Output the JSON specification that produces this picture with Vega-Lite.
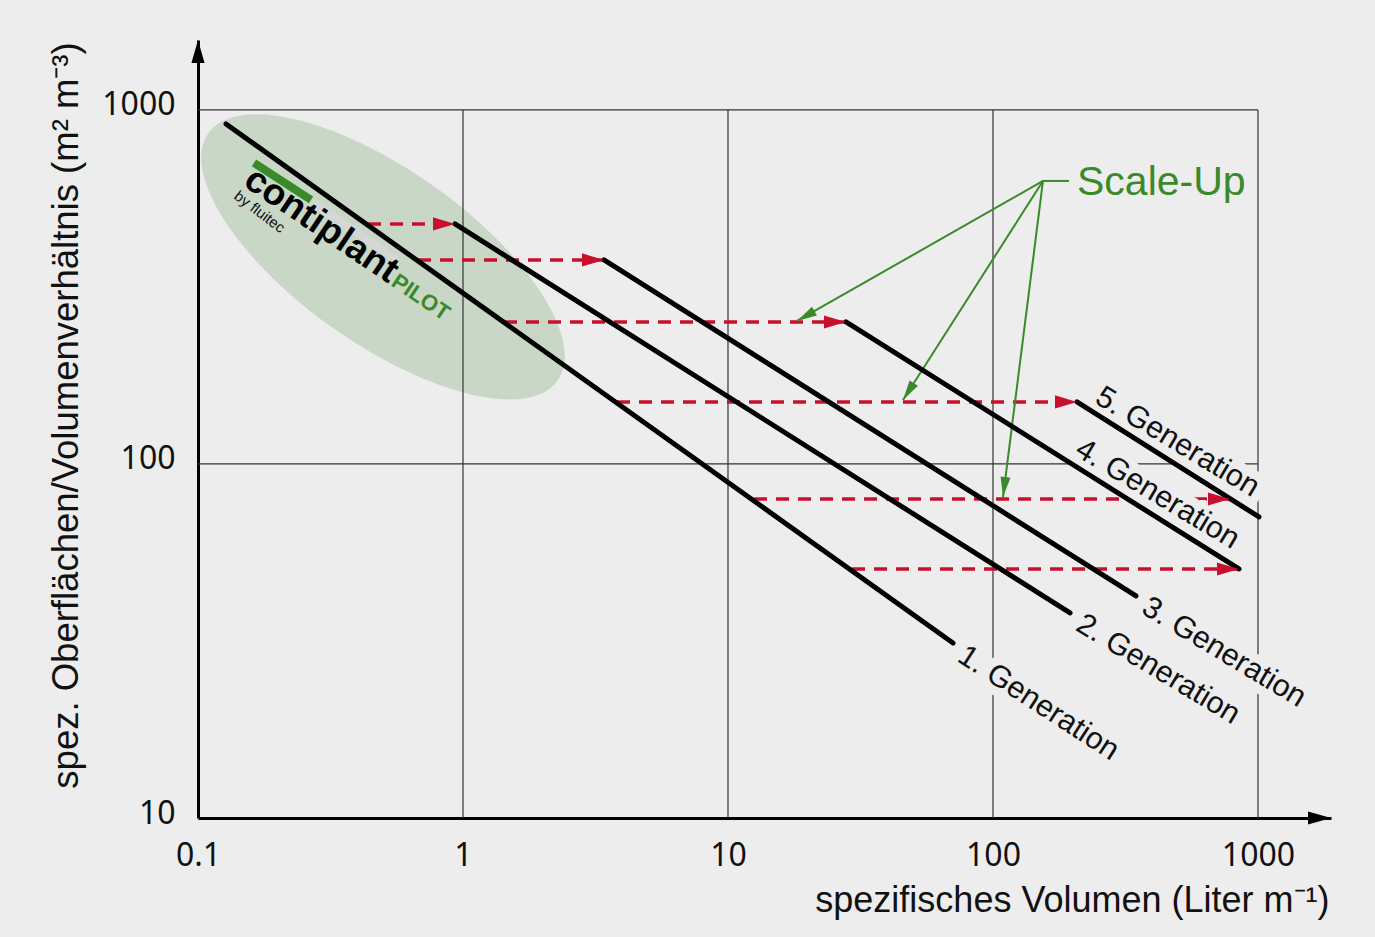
{
  "$schema": "https://vega.github.io/schema/vega-lite/v6.json",
  "width": 1133,
  "height": 778,
  "autosize": {"type": "none"},
  "padding": {"left": 198, "top": 40, "right": 44, "bottom": 119},
  "background": "#ededed",
  "config": {"view": {"stroke": null}, "font": "Liberation Sans"},
  "datasets": {
    "lines": [
      {"gen": 1, "x": 0.1276, "y": 912.8}, {"gen": 1, "x": 70.64, "y": 31.22},
      {"gen": 2, "x": 0.9329, "y": 476.4}, {"gen": 2, "x": 195.3, "y": 37.94},
      {"gen": 3, "x": 3.405, "y": 376.9}, {"gen": 3, "x": 346.4, "y": 42.38},
      {"gen": 4, "x": 27.88, "y": 251.8}, {"gen": 4, "x": 847.8, "y": 50.51},
      {"gen": 5, "x": 207.5, "y": 149.7}, {"gen": 5, "x": 1008.7, "y": 70.86}
    ],
    "labels": [
      {"gen": 1, "label": "1. Generation", "x": 70.64, "y": 31.22},
      {"gen": 2, "label": "2. Generation", "x": 195.3, "y": 37.94},
      {"gen": 3, "label": "3. Generation", "x": 346.4, "y": 42.38},
      {"gen": 4, "label": "4. Generation", "x": 847.8, "y": 50.51},
      {"gen": 5, "label": "5. Generation", "x": 1008.7, "y": 70.86}
    ],
    "arrows": [
      {"x": 0.4381, "x2": 0.9329, "y": 476.4},
      {"x": 0.6765, "x2": 3.405, "y": 376.9},
      {"x": 1.428, "x2": 27.88, "y": 251.8},
      {"x": 3.812, "x2": 207.5, "y": 149.7},
      {"x": 12.54, "x2": 784.2, "y": 79.62},
      {"x": 29.38, "x2": 847.8, "y": 50.51}
    ],
    "green": [
      {"id": "a", "x": 154.4, "y": 630.1, "x2": 18.22, "y2": 253.5},
      {"id": "b", "x": 154.4, "y": 630.1, "x2": 45.76, "y2": 151.6},
      {"id": "c", "x": 154.4, "y": 630.1, "x2": 109.1, "y2": 80.66},
      {"id": "h", "x": 154.4, "y": 630.1, "x2": 193.6, "y2": 630.1}
    ],
    "scaleup": [{"text": "Scale-Up", "x": 207.5, "y": 575.4}],
    "ellipse": [{"x": 0.499, "y": 384.6}],
    "logoText": [
      {"part": "contiplant", "x": 0.14655, "y": 614.1},
      {"part": "PILOT", "x": 0.5302, "y": 320.4},
      {"part": "by fluitec", "x": 0.13554, "y": 564.2}
    ],
    "logoBars": [
      {"bar": "green", "x": 0.16266, "y": 708.6, "x2": 0.267, "y2": 557.0},
      {"bar": "gray", "x": 0.27164, "y": 546.2, "x2": 0.56362, "y2": 376.9}
    ],
    "gridV": [
      {"x": 1, "y": 10, "y2": 1000},
      {"x": 10, "y": 10, "y2": 1000},
      {"x": 100, "y": 10, "y2": 1000},
      {"x": 1000, "y": 10, "y2": 1000}
    ],
    "gridH": [
      {"y": 100, "x": 0.1, "x2": 1000},
      {"y": 1000, "x": 0.1, "x2": 1000}
    ],
    "axisArrows": [
      {"dir": "up", "x": 0.1, "y": 1576},
      {"dir": "right", "x": 1886, "y": 10}
    ]
  },
  "encoding": {
    "x": {
      "field": "x", "type": "quantitative",
      "scale": {"type": "log", "domain": [0.1, 1886], "nice": false, "zero": false},
      "axis": {
        "values": [0.1, 1, 10, 100, 1000], "format": "~g",
        "grid": false, "ticks": false, "tickSize": 0,
        "domainColor": "#000", "domainWidth": 3,
        "labelFont": "Noto Sans", "labelFontSize": 32, "labelColor": "#111",
        "labelPadding": 47, "labelBaseline": "alphabetic", "labelAlign": "center",
        "labelFlush": false, "labelOverlap": false,
        "title": "spezifisches Volumen (Liter m⁻¹)",
        "titleFont": "Liberation Sans", "titleFontSize": 36, "titleFontWeight": "normal", "titleColor": "#111",
        "titleX": 1131, "titleY": 93, "titleAlign": "right", "titleBaseline": "alphabetic", "titleAnchor": null
      }
    },
    "y": {
      "field": "y", "type": "quantitative",
      "scale": {"type": "log", "domain": [10, 1576], "nice": false, "zero": false},
      "axis": {
        "values": [10, 100, 1000], "format": "~g",
        "grid": false, "ticks": false, "tickSize": 0,
        "domainColor": "#000", "domainWidth": 3,
        "labelFont": "Noto Sans", "labelFontSize": 32, "labelColor": "#111",
        "labelPadding": 23, "labelBaseline": "alphabetic", "labelAlign": "right", "labelOffset": 5,
        "labelFlush": false, "labelOverlap": false,
        "title": "spez. Oberflächen/Volumenverhältnis (m² m⁻³)",
        "titleFont": "Liberation Sans", "titleFontSize": 36.5, "titleFontWeight": "normal", "titleColor": "#111",
        "titleX": -121, "titleY": 375, "titleAngle": -90, "titleAlign": "center", "titleBaseline": "alphabetic", "titleAnchor": null
      }
    }
  },
  "layer": [
    {
      "data": {"name": "ellipse"},
      "mark": {"type": "point", "shape": "M-1,0A1,0.4065,0,1,0,1,0A1,0.4065,0,1,0,-1,0Z", "size": 183184, "angle": 35.3, "filled": true, "color": "#c9d8c6", "opacity": 1, "strokeWidth": 0}
    },
    {
      "data": {"name": "gridV"},
      "mark": {"type": "rule", "color": "#333", "strokeWidth": 1.2},
      "encoding": {"y2": {"field": "y2"}}
    },
    {
      "data": {"name": "gridH"},
      "mark": {"type": "rule", "color": "#333", "strokeWidth": 1.2},
      "encoding": {"x2": {"field": "x2"}}
    },
    {
      "data": {"name": "logoBars"},
      "transform": [{"filter": "datum.bar == 'gray'"}],
      "mark": {"type": "rule", "color": "#d6d6d6", "strokeWidth": 8},
      "encoding": {"x2": {"field": "x2"}, "y2": {"field": "y2"}}
    },
    {
      "data": {"name": "logoBars"},
      "transform": [{"filter": "datum.bar == 'green'"}],
      "mark": {"type": "rule", "color": "#3a8a2a", "strokeWidth": 8},
      "encoding": {"x2": {"field": "x2"}, "y2": {"field": "y2"}}
    },
    {
      "data": {"name": "logoText"},
      "transform": [{"filter": "datum.part == 'contiplant'"}],
      "mark": {"type": "text", "font": "Liberation Sans", "fontSize": 37, "fontWeight": "bold", "color": "#000", "align": "left", "baseline": "alphabetic", "angle": 34},
      "encoding": {"text": {"field": "part"}}
    },
    {
      "data": {"name": "logoText"},
      "transform": [{"filter": "datum.part == 'PILOT'"}],
      "mark": {"type": "text", "font": "Liberation Sans", "fontSize": 22, "fontWeight": "bold", "color": "#3a8a2a", "align": "left", "baseline": "alphabetic", "angle": 34},
      "encoding": {"text": {"field": "part"}}
    },
    {
      "data": {"name": "logoText"},
      "transform": [{"filter": "datum.part == 'by fluitec'"}],
      "mark": {"type": "text", "font": "Liberation Sans", "fontSize": 15, "color": "#111", "align": "left", "baseline": "alphabetic", "angle": 37},
      "encoding": {"text": {"field": "part"}}
    },
    {
      "data": {"name": "arrows"},
      "mark": {"type": "rule", "color": "#c8102e", "strokeWidth": 3.5, "strokeDash": [13, 9]},
      "encoding": {"x2": {"field": "x2"}}
    },
    {
      "data": {"name": "green"},
      "mark": {"type": "rule", "color": "#3a8a2a", "strokeWidth": 2},
      "encoding": {"x2": {"field": "x2"}, "y2": {"field": "y2"}}
    },
    {
      "data": {"name": "green"},
      "transform": [{"filter": "datum.id == 'a'"}],
      "mark": {"type": "point", "shape": "M0,0L0.5,2L-0.5,2Z", "size": 400, "angle": 240.4, "filled": true, "color": "#3a8a2a", "opacity": 1, "strokeWidth": 0},
      "encoding": {"x": {"field": "x2", "type": "quantitative"}, "y": {"field": "y2", "type": "quantitative"}}
    },
    {
      "data": {"name": "green"},
      "transform": [{"filter": "datum.id == 'b'"}],
      "mark": {"type": "point", "shape": "M0,0L0.5,2L-0.5,2Z", "size": 400, "angle": 212.6, "filled": true, "color": "#3a8a2a", "opacity": 1, "strokeWidth": 0},
      "encoding": {"x": {"field": "x2", "type": "quantitative"}, "y": {"field": "y2", "type": "quantitative"}}
    },
    {
      "data": {"name": "green"},
      "transform": [{"filter": "datum.id == 'c'"}],
      "mark": {"type": "point", "shape": "M0,0L0.5,2L-0.5,2Z", "size": 400, "angle": 187.2, "filled": true, "color": "#3a8a2a", "opacity": 1, "strokeWidth": 0},
      "encoding": {"x": {"field": "x2", "type": "quantitative"}, "y": {"field": "y2", "type": "quantitative"}}
    },
    {
      "data": {"name": "scaleup"},
      "mark": {"type": "text", "font": "Liberation Sans", "fontSize": 41, "color": "#3a8a2a", "align": "left", "baseline": "alphabetic"},
      "encoding": {"text": {"field": "text"}}
    },
    {
      "data": {"name": "labels"},
      "transform": [{"filter": "datum.gen == 1"}],
      "mark": {"type": "text", "font": "Liberation Sans", "fontSize": 30.5, "align": "left", "baseline": "top", "angle": 33, "dx": 12, "dy": -11, "fill": "#ededed", "stroke": "#ededed", "strokeWidth": 18, "strokeJoin": "round"},
      "encoding": {"text": {"field": "label"}}
    },
    {
      "data": {"name": "labels"},
      "transform": [{"filter": "datum.gen == 2 || datum.gen == 3"}],
      "mark": {"type": "text", "font": "Liberation Sans", "fontSize": 30.5, "align": "left", "baseline": "top", "angle": 31, "dx": 12, "dy": -12, "fill": "#ededed", "stroke": "#ededed", "strokeWidth": 18, "strokeJoin": "round"},
      "encoding": {"text": {"field": "label"}}
    },
    {
      "data": {"name": "labels"},
      "transform": [{"filter": "datum.gen >= 4"}],
      "mark": {"type": "text", "font": "Liberation Sans", "fontSize": 30.5, "align": "right", "baseline": "alphabetic", "angle": 31, "dx": -16, "dy": -13, "fill": "#ededed", "stroke": "#ededed", "strokeWidth": 18, "strokeJoin": "round"},
      "encoding": {"text": {"field": "label"}}
    },
    {
      "data": {"name": "lines"},
      "mark": {"type": "line", "color": "#000", "strokeWidth": 5, "strokeCap": "round"},
      "encoding": {"detail": {"field": "gen"}}
    },
    {
      "data": {"name": "arrows"},
      "mark": {"type": "point", "shape": "M0,0L-2,-0.6L-2,0.6Z", "size": 484, "filled": true, "color": "#c8102e", "opacity": 1, "strokeWidth": 0},
      "encoding": {"x": {"field": "x2", "type": "quantitative"}}
    },
    {
      "data": {"name": "labels"},
      "transform": [{"filter": "datum.gen == 1"}],
      "mark": {"type": "text", "font": "Liberation Sans", "fontSize": 30.5, "align": "left", "baseline": "top", "angle": 33, "dx": 12, "dy": -11, "color": "#111"},
      "encoding": {"text": {"field": "label"}}
    },
    {
      "data": {"name": "labels"},
      "transform": [{"filter": "datum.gen == 2 || datum.gen == 3"}],
      "mark": {"type": "text", "font": "Liberation Sans", "fontSize": 30.5, "align": "left", "baseline": "top", "angle": 31, "dx": 12, "dy": -12, "color": "#111"},
      "encoding": {"text": {"field": "label"}}
    },
    {
      "data": {"name": "labels"},
      "transform": [{"filter": "datum.gen >= 4"}],
      "mark": {"type": "text", "font": "Liberation Sans", "fontSize": 30.5, "align": "right", "baseline": "alphabetic", "angle": 31, "dx": -16, "dy": -13, "color": "#111"},
      "encoding": {"text": {"field": "label"}}
    },
    {
      "data": {"name": "axisArrows"},
      "transform": [{"filter": "datum.dir == 'up'"}],
      "mark": {"type": "point", "shape": "M0,0L0.57,2L-0.57,2Z", "size": 529, "filled": true, "color": "#000", "opacity": 1, "strokeWidth": 0}
    },
    {
      "data": {"name": "axisArrows"},
      "transform": [{"filter": "datum.dir == 'right'"}],
      "mark": {"type": "point", "shape": "M0,0L-2,-0.57L-2,0.57Z", "size": 529, "filled": true, "color": "#000", "opacity": 1, "strokeWidth": 0}
    }
  ]
}
